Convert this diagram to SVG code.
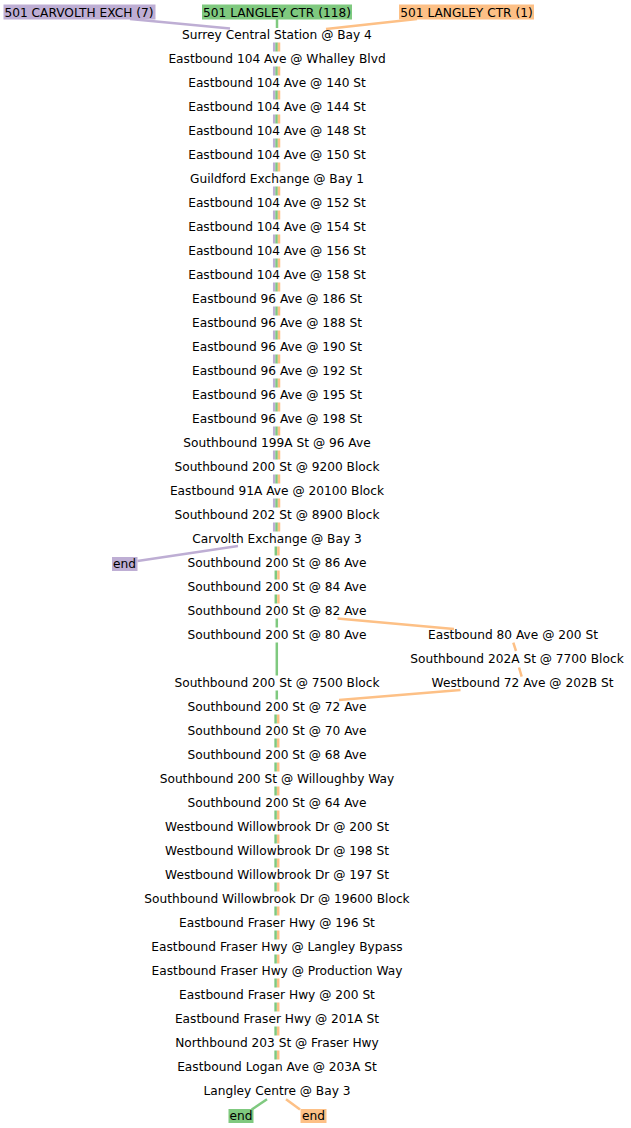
<svg xmlns="http://www.w3.org/2000/svg" width="631" height="1128" viewBox="0 0 631 1128">
<style>
text{font-family:"DejaVu Sans",sans-serif;font-size:12.2px;fill:#000;text-anchor:middle}
.p{stroke:#beaed4}.g{stroke:#7fc97f}.o{stroke:#fdc086}
.c path{fill:none;stroke-width:2.5}
</style>
<rect width="631" height="1128" fill="#fff"/>
<g class="c" id="connectors">
<path class="p" d="M130,19L230,28.5"/>
<path class="g" d="M277,19V28"/>
<path class="o" d="M417,19L326,29"/>
<path class="p" d="M274.2,42.5v9m0,15v9m0,15v9m0,15v9m0,15v9m0,15v9m0,15v9m0,15v9m0,15v9m0,15v9m0,15v9m0,15v9m0,15v9m0,15v9m0,15v9m0,15v9m0,15v9m0,15v9m0,15v9m0,15v9m0,15v9"/>
<path class="g" d="M276.6,42.5v9m0,15v9m0,15v9m0,15v9m0,15v9m0,15v9m0,15v9m0,15v9m0,15v9m0,15v9m0,15v9m0,15v9m0,15v9m0,15v9m0,15v9m0,15v9m0,15v9m0,15v9m0,15v9m0,15v9m0,15v9"/>
<path class="o" d="M279,42.5v9m0,15v9m0,15v9m0,15v9m0,15v9m0,15v9m0,15v9m0,15v9m0,15v9m0,15v9m0,15v9m0,15v9m0,15v9m0,15v9m0,15v9m0,15v9m0,15v9m0,15v9m0,15v9m0,15v9m0,15v9"/>
<path class="p" d="M238,546L137.5,561"/>
<path class="g" d="M275.8,546.5v9m0,15v9m0,15v9"/>
<path class="o" d="M278.4,546.5v9m0,15v9m0,15v9"/>
<path class="g" d="M276.8,618.5v9M276.8,642.5V675.5M276.8,690.5v9"/>
<path class="o" d="M337.5,618.5L454,629"/>
<path class="o" d="M513.3,642.7L516,651M519,667.5L521.7,676.7"/>
<path class="o" d="M460.5,690L339,700"/>
<path class="g" d="M275.6,714.5v9m0,15v9m0,15v9m0,15v9m0,15v9m0,15v9m0,15v9m0,15v9m0,15v9m0,15v9m0,15v9m0,15v9m0,15v9m0,15v9m0,15v9"/>
<path class="o" d="M278.2,714.5v9m0,15v9m0,15v9m0,15v9m0,15v9m0,15v9m0,15v9m0,15v9m0,15v9m0,15v9m0,15v9m0,15v9m0,15v9m0,15v9m0,15v9"/>
<path class="g" d="M267,1099.3L251.7,1109.5"/>
<path class="o" d="M286,1099.3L300,1109.5"/>
</g>
<g id="h-carvolth"><rect x="3.5" y="4.5" width="152" height="15" fill="#beaed4"/><text x="79" y="16.5">501 CARVOLTH EXCH (7)</text></g>
<g id="h-langley118"><rect x="202" y="4.5" width="150" height="15" fill="#7fc97f"/><text x="277" y="16.5">501 LANGLEY CTR (118)</text></g>
<g id="h-langley1"><rect x="399" y="4.5" width="135" height="15" fill="#fdc086"/><text x="466.5" y="16.5">501 LANGLEY CTR (1)</text></g>
<g id="s0"><text x="277" y="39">Surrey Central Station @ Bay 4</text></g>
<g id="s1"><text x="277" y="63">Eastbound 104 Ave @ Whalley Blvd</text></g>
<g id="s2"><text x="277" y="87">Eastbound 104 Ave @ 140 St</text></g>
<g id="s3"><text x="277" y="111">Eastbound 104 Ave @ 144 St</text></g>
<g id="s4"><text x="277" y="135">Eastbound 104 Ave @ 148 St</text></g>
<g id="s5"><text x="277" y="159">Eastbound 104 Ave @ 150 St</text></g>
<g id="s6"><text x="277" y="183">Guildford Exchange @ Bay 1</text></g>
<g id="s7"><text x="277" y="207">Eastbound 104 Ave @ 152 St</text></g>
<g id="s8"><text x="277" y="231">Eastbound 104 Ave @ 154 St</text></g>
<g id="s9"><text x="277" y="255">Eastbound 104 Ave @ 156 St</text></g>
<g id="s10"><text x="277" y="279">Eastbound 104 Ave @ 158 St</text></g>
<g id="s11"><text x="277" y="303">Eastbound 96 Ave @ 186 St</text></g>
<g id="s12"><text x="277" y="327">Eastbound 96 Ave @ 188 St</text></g>
<g id="s13"><text x="277" y="351">Eastbound 96 Ave @ 190 St</text></g>
<g id="s14"><text x="277" y="375">Eastbound 96 Ave @ 192 St</text></g>
<g id="s15"><text x="277" y="399">Eastbound 96 Ave @ 195 St</text></g>
<g id="s16"><text x="277" y="423">Eastbound 96 Ave @ 198 St</text></g>
<g id="s17"><text x="277" y="447">Southbound 199A St @ 96 Ave</text></g>
<g id="s18"><text x="277" y="471">Southbound 200 St @ 9200 Block</text></g>
<g id="s19"><text x="277" y="495">Eastbound 91A Ave @ 20100 Block</text></g>
<g id="s20"><text x="277" y="519">Southbound 202 St @ 8900 Block</text></g>
<g id="s21"><text x="277" y="543">Carvolth Exchange @ Bay 3</text></g>
<g id="end-p"><rect x="112" y="557" width="25.5" height="14" fill="#beaed4"/><text x="124.5" y="568">end</text></g>
<g id="s22"><text x="277" y="567">Southbound 200 St @ 86 Ave</text></g>
<g id="s23"><text x="277" y="591">Southbound 200 St @ 84 Ave</text></g>
<g id="s24"><text x="277" y="615">Southbound 200 St @ 82 Ave</text></g>
<g id="s25"><text x="277" y="639">Southbound 200 St @ 80 Ave</text></g>
<g id="b1"><text x="513" y="639">Eastbound 80 Ave @ 200 St</text></g>
<g id="b2"><text x="517" y="663">Southbound 202A St @ 7700 Block</text></g>
<g id="b3"><text x="522.5" y="687">Westbound 72 Ave @ 202B St</text></g>
<g id="s27"><text x="277" y="687">Southbound 200 St @ 7500 Block</text></g>
<g id="s28"><text x="277" y="711">Southbound 200 St @ 72 Ave</text></g>
<g id="s29"><text x="277" y="735">Southbound 200 St @ 70 Ave</text></g>
<g id="s30"><text x="277" y="759">Southbound 200 St @ 68 Ave</text></g>
<g id="s31"><text x="277" y="783">Southbound 200 St @ Willoughby Way</text></g>
<g id="s32"><text x="277" y="807">Southbound 200 St @ 64 Ave</text></g>
<g id="s33"><text x="277" y="831">Westbound Willowbrook Dr @ 200 St</text></g>
<g id="s34"><text x="277" y="855">Westbound Willowbrook Dr @ 198 St</text></g>
<g id="s35"><text x="277" y="879">Westbound Willowbrook Dr @ 197 St</text></g>
<g id="s36"><text x="277" y="903">Southbound Willowbrook Dr @ 19600 Block</text></g>
<g id="s37"><text x="277" y="927">Eastbound Fraser Hwy @ 196 St</text></g>
<g id="s38"><text x="277" y="951">Eastbound Fraser Hwy @ Langley Bypass</text></g>
<g id="s39"><text x="277" y="975">Eastbound Fraser Hwy @ Production Way</text></g>
<g id="s40"><text x="277" y="999">Eastbound Fraser Hwy @ 200 St</text></g>
<g id="s41"><text x="277" y="1023">Eastbound Fraser Hwy @ 201A St</text></g>
<g id="s42"><text x="277" y="1047">Northbound 203 St @ Fraser Hwy</text></g>
<g id="s43"><text x="277" y="1071">Eastbound Logan Ave @ 203A St</text></g>
<g id="s44"><text x="277" y="1095">Langley Centre @ Bay 3</text></g>
<g id="end-g"><rect x="228.5" y="1109" width="25" height="14" fill="#7fc97f"/><text x="241" y="1120">end</text></g>
<g id="end-o"><rect x="300.5" y="1109" width="26" height="14" fill="#fdc086"/><text x="313.5" y="1120">end</text></g>
</svg>
